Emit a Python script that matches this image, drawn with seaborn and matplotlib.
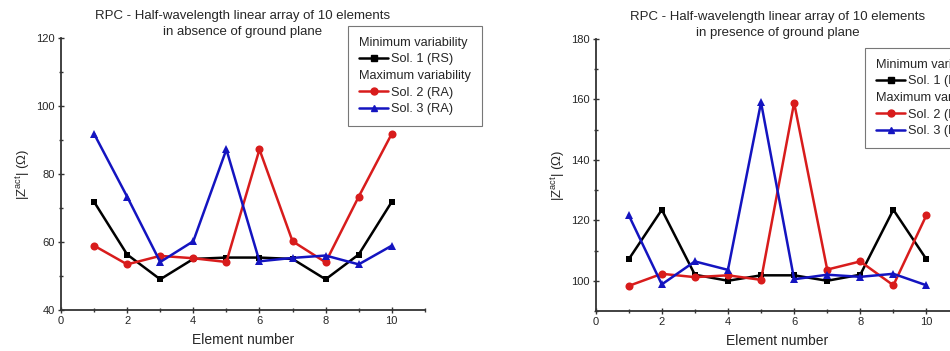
import numpy as np
import pandas as pd
import matplotlib
matplotlib.use("Agg")
import matplotlib.pyplot as plt
from matplotlib.lines import Line2D
from matplotlib.ticker import MultipleLocator
import seaborn as sns

# ---------------- data ----------------
elements = [1, 2, 3, 4, 5, 6, 7, 8, 9, 10]

absent_sol1 = [71.8, 56.3, 49.0, 55.0, 55.4, 55.4, 55.0, 49.0, 56.3, 71.8]
absent_sol2 = [58.9, 53.4, 55.9, 55.2, 54.1, 87.2, 60.2, 54.0, 73.3, 91.8]
absent_sol3 = [91.8, 73.3, 54.1, 60.2, 87.2, 54.3, 55.3, 56.0, 53.4, 58.9]

present_sol1 = [107.1, 123.5, 102.0, 100.0, 101.8, 101.8, 100.0, 102.0, 123.5, 107.1]
present_sol2 = [98.3, 102.3, 101.2, 101.8, 100.3, 158.9, 103.7, 106.4, 98.5, 121.7]
present_sol3 = [121.7, 98.8, 106.4, 103.6, 159.0, 100.5, 102.0, 101.3, 102.3, 98.5]

series_names = ["Sol. 1 (RS)", "Sol. 2 (RA)", "Sol. 3 (RA)"]
titles = ["RPC - Half-wavelength linear array of 10 elements\nin absence of ground plane",
          "RPC - Half-wavelength linear array of 10 elements\nin presence of ground plane"]
x_label = "Element number"
y_label = r"|Z$^{\mathrm{act}}$| ($\Omega$)"
legend_headers = ["Minimum variability", "Maximum variability"]

colors = ["#000000", "#d81c1c", "#1414c0"]
markers = ["s", "o", "^"]
msizes = [5.0, 5.8, 6.2]

sns.set_theme(style="white")
plt.rcParams["font.family"] = ["Liberation Sans", "DejaVu Sans"]
plt.rcParams["mathtext.fontset"] = "custom"
plt.rcParams["mathtext.rm"] = "Liberation Sans"
plt.rcParams["mathtext.it"] = "Liberation Sans:italic"

fig = plt.figure(figsize=(9.5, 3.51), dpi=100)
ax1 = fig.add_axes([0.0642, 0.117, 0.383, 0.775])
ax2 = fig.add_axes([0.627, 0.114, 0.383, 0.775])


def make_df(s1, s2, s3):
    frames = []
    for name, vals in zip(series_names, [s1, s2, s3]):
        frames.append(pd.DataFrame({"Element": elements, "Z": vals, "Series": name}))
    return pd.concat(frames, ignore_index=True)


def draw(ax, df, title, ylim, ymajor, yminor, legend_anchor):
    for name, c, m, ms in zip(series_names, colors, markers, msizes):
        sub = df[df["Series"] == name]
        sns.lineplot(data=sub, x="Element", y="Z", ax=ax, color=c, marker=m,
                     markersize=ms, markeredgewidth=0, linewidth=1.8, legend=False)
    ax.set_xlim(0, 11)
    ax.set_ylim(*ylim)
    ax.xaxis.set_major_locator(MultipleLocator(2))
    ax.xaxis.set_minor_locator(MultipleLocator(1))
    ax.yaxis.set_major_locator(MultipleLocator(ymajor))
    ax.yaxis.set_minor_locator(MultipleLocator(yminor))
    ax.tick_params(axis="both", which="major", direction="inout", length=5,
                   width=1, color="#333333", labelsize=8, pad=2,
                   bottom=True, left=True)
    ax.tick_params(axis="both", which="minor", direction="inout", length=3,
                   width=1, color="#333333", bottom=True, left=True)
    for sp in ["top", "right"]:
        ax.spines[sp].set_visible(False)
    for sp in ["left", "bottom"]:
        ax.spines[sp].set_color("#333333")
        ax.spines[sp].set_linewidth(1.3)
    ax.set_xlabel(x_label, fontsize=10, labelpad=5)
    ax.set_ylabel(y_label, fontsize=9.5, labelpad=3)
    ax.set_title(title, fontsize=9.5, pad=-1, linespacing=1.45)

    handles = [Line2D([], [], linestyle="none", marker=None)]
    labels = [legend_headers[0]]
    handles.append(Line2D([], [], color=colors[0], marker=markers[0], markersize=4.5, linewidth=1.8))
    labels.append(series_names[0])
    handles.append(Line2D([], [], linestyle="none", marker=None))
    labels.append(legend_headers[1])
    for i in (1, 2):
        handles.append(Line2D([], [], color=colors[i], marker=markers[i], markersize=5, linewidth=1.8))
        labels.append(series_names[i])
    leg = ax.legend(handles, labels, loc="upper left", bbox_to_anchor=legend_anchor,
                    bbox_transform=fig.transFigure, fontsize=9.2, frameon=True,
                    fancybox=False, edgecolor="#555555", handlelength=2.3,
                    handletextpad=0.2, labelspacing=0.36, borderpad=0.85,
                    borderaxespad=0)
    leg.get_frame().set_linewidth(0.8)
    # remove the empty handle area of the header rows so they align left
    try:
        col = leg._legend_handle_box.get_children()[0]
        rows = col.get_children()
        for idx in (0, 2):
            rows[idx]._children = rows[idx]._children[1:]
    except Exception:
        pass


draw(ax1, make_df(absent_sol1, absent_sol2, absent_sol3), titles[0], (40, 120), 20, 10,
     (348 / 950, 1 - 26 / 351))
draw(ax2, make_df(present_sol1, present_sol2, present_sol3), titles[1], (90, 180), 20, 10,
     (865 / 950, 1 - 48 / 351))

fig.savefig("out.png", dpi=100)
